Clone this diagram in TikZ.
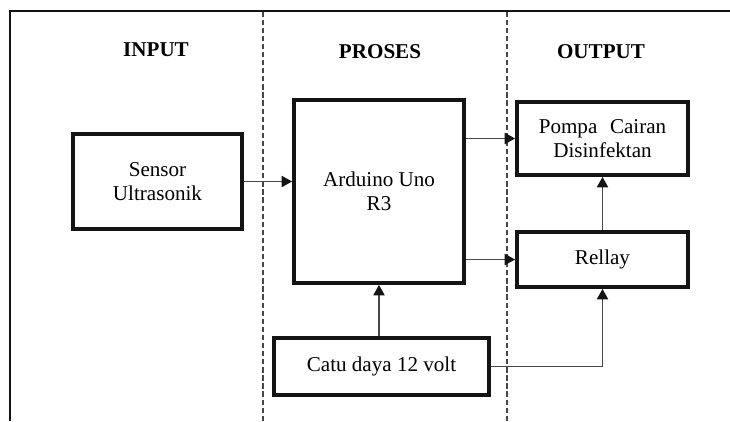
\documentclass[tikz,border=0pt]{standalone}
\usepackage{fontspec}
\setmainfont{Liberation Serif}
\usetikzlibrary{arrows.meta, positioning, calc}
\definecolor{blkline}{RGB}{20,20,20}
\definecolor{arrgray}{RGB}{70,70,70}

\tikzset{
  blok/.style={draw=blkline, line width=2.2pt, fill=white, align=center,
    inner sep=0pt, font=\fontsize{12}{13.5}\selectfont},
  judul/.style={font=\fontsize{12}{14}\selectfont\bfseries},
  panah/.style={draw=arrgray, line width=0.7pt,
    -{Triangle[length=6pt,width=6.5pt,fill=blkline,color=blkline]}},
  batas/.style={draw=arrgray, line width=0.6pt, dash pattern=on 3pt off 1.6pt}
}

\begin{document}
\begin{tikzpicture}[x=1cm, y=1cm]
\useasboundingbox (0,0) rectangle (14.6,8.42);
\fill[white] (0,0) rectangle (14.6,8.42);

% frame
\draw[blkline, line width=0.9pt] (0.2,0) -- (0.2,8.2) -- (14.6,8.2);

% column borders
\draw[batas] (5.26,0) -- (5.26,8.2);
\draw[batas] (10.14,0) -- (10.14,8.2);

% headers
\node[judul] (hin)  at (3.12,7.42) {INPUT};
\node[judul] (hpro) at (7.60,7.38) {PROSES};
\node[judul] (hout) at (12.02,7.38) {OUTPUT};

% blocks
\node[blok, minimum width=3.38cm, minimum height=1.9cm]  (sensor)  at (3.15,4.79) {Sensor\\Ultrasonik};
\node[blok, minimum width=3.4cm,  minimum height=3.66cm] (arduino) at (7.58,4.59) {Arduino Uno\\R3};
\node[blok, minimum width=3.42cm, minimum height=1.46cm] (pompa)   at (12.05,5.65) {Pompa\hspace{0.6em}Cairan\\Disinfektan};
\node[blok, minimum width=3.42cm, minimum height=1.1cm]  (rellay)  at (12.05,3.23) {Rellay};
\node[blok, minimum width=4.3cm,  minimum height=1.14cm] (catu)    at (7.63,1.09) {Catu daya 12 volt};

% connectors
\draw[panah] (sensor.east) -- (sensor.east -| arduino.west);
\draw[panah] (pompa.west -| arduino.east) -- (pompa.west);
\draw[panah] (rellay.west -| arduino.east) -- (rellay.west);
\draw[panah] (rellay.north) -- (pompa.south);
\draw[panah] (arduino.south |- catu.north) -- (arduino.south);
\draw[panah] (catu.east) -| (rellay.south);
\end{tikzpicture}
\end{document}
